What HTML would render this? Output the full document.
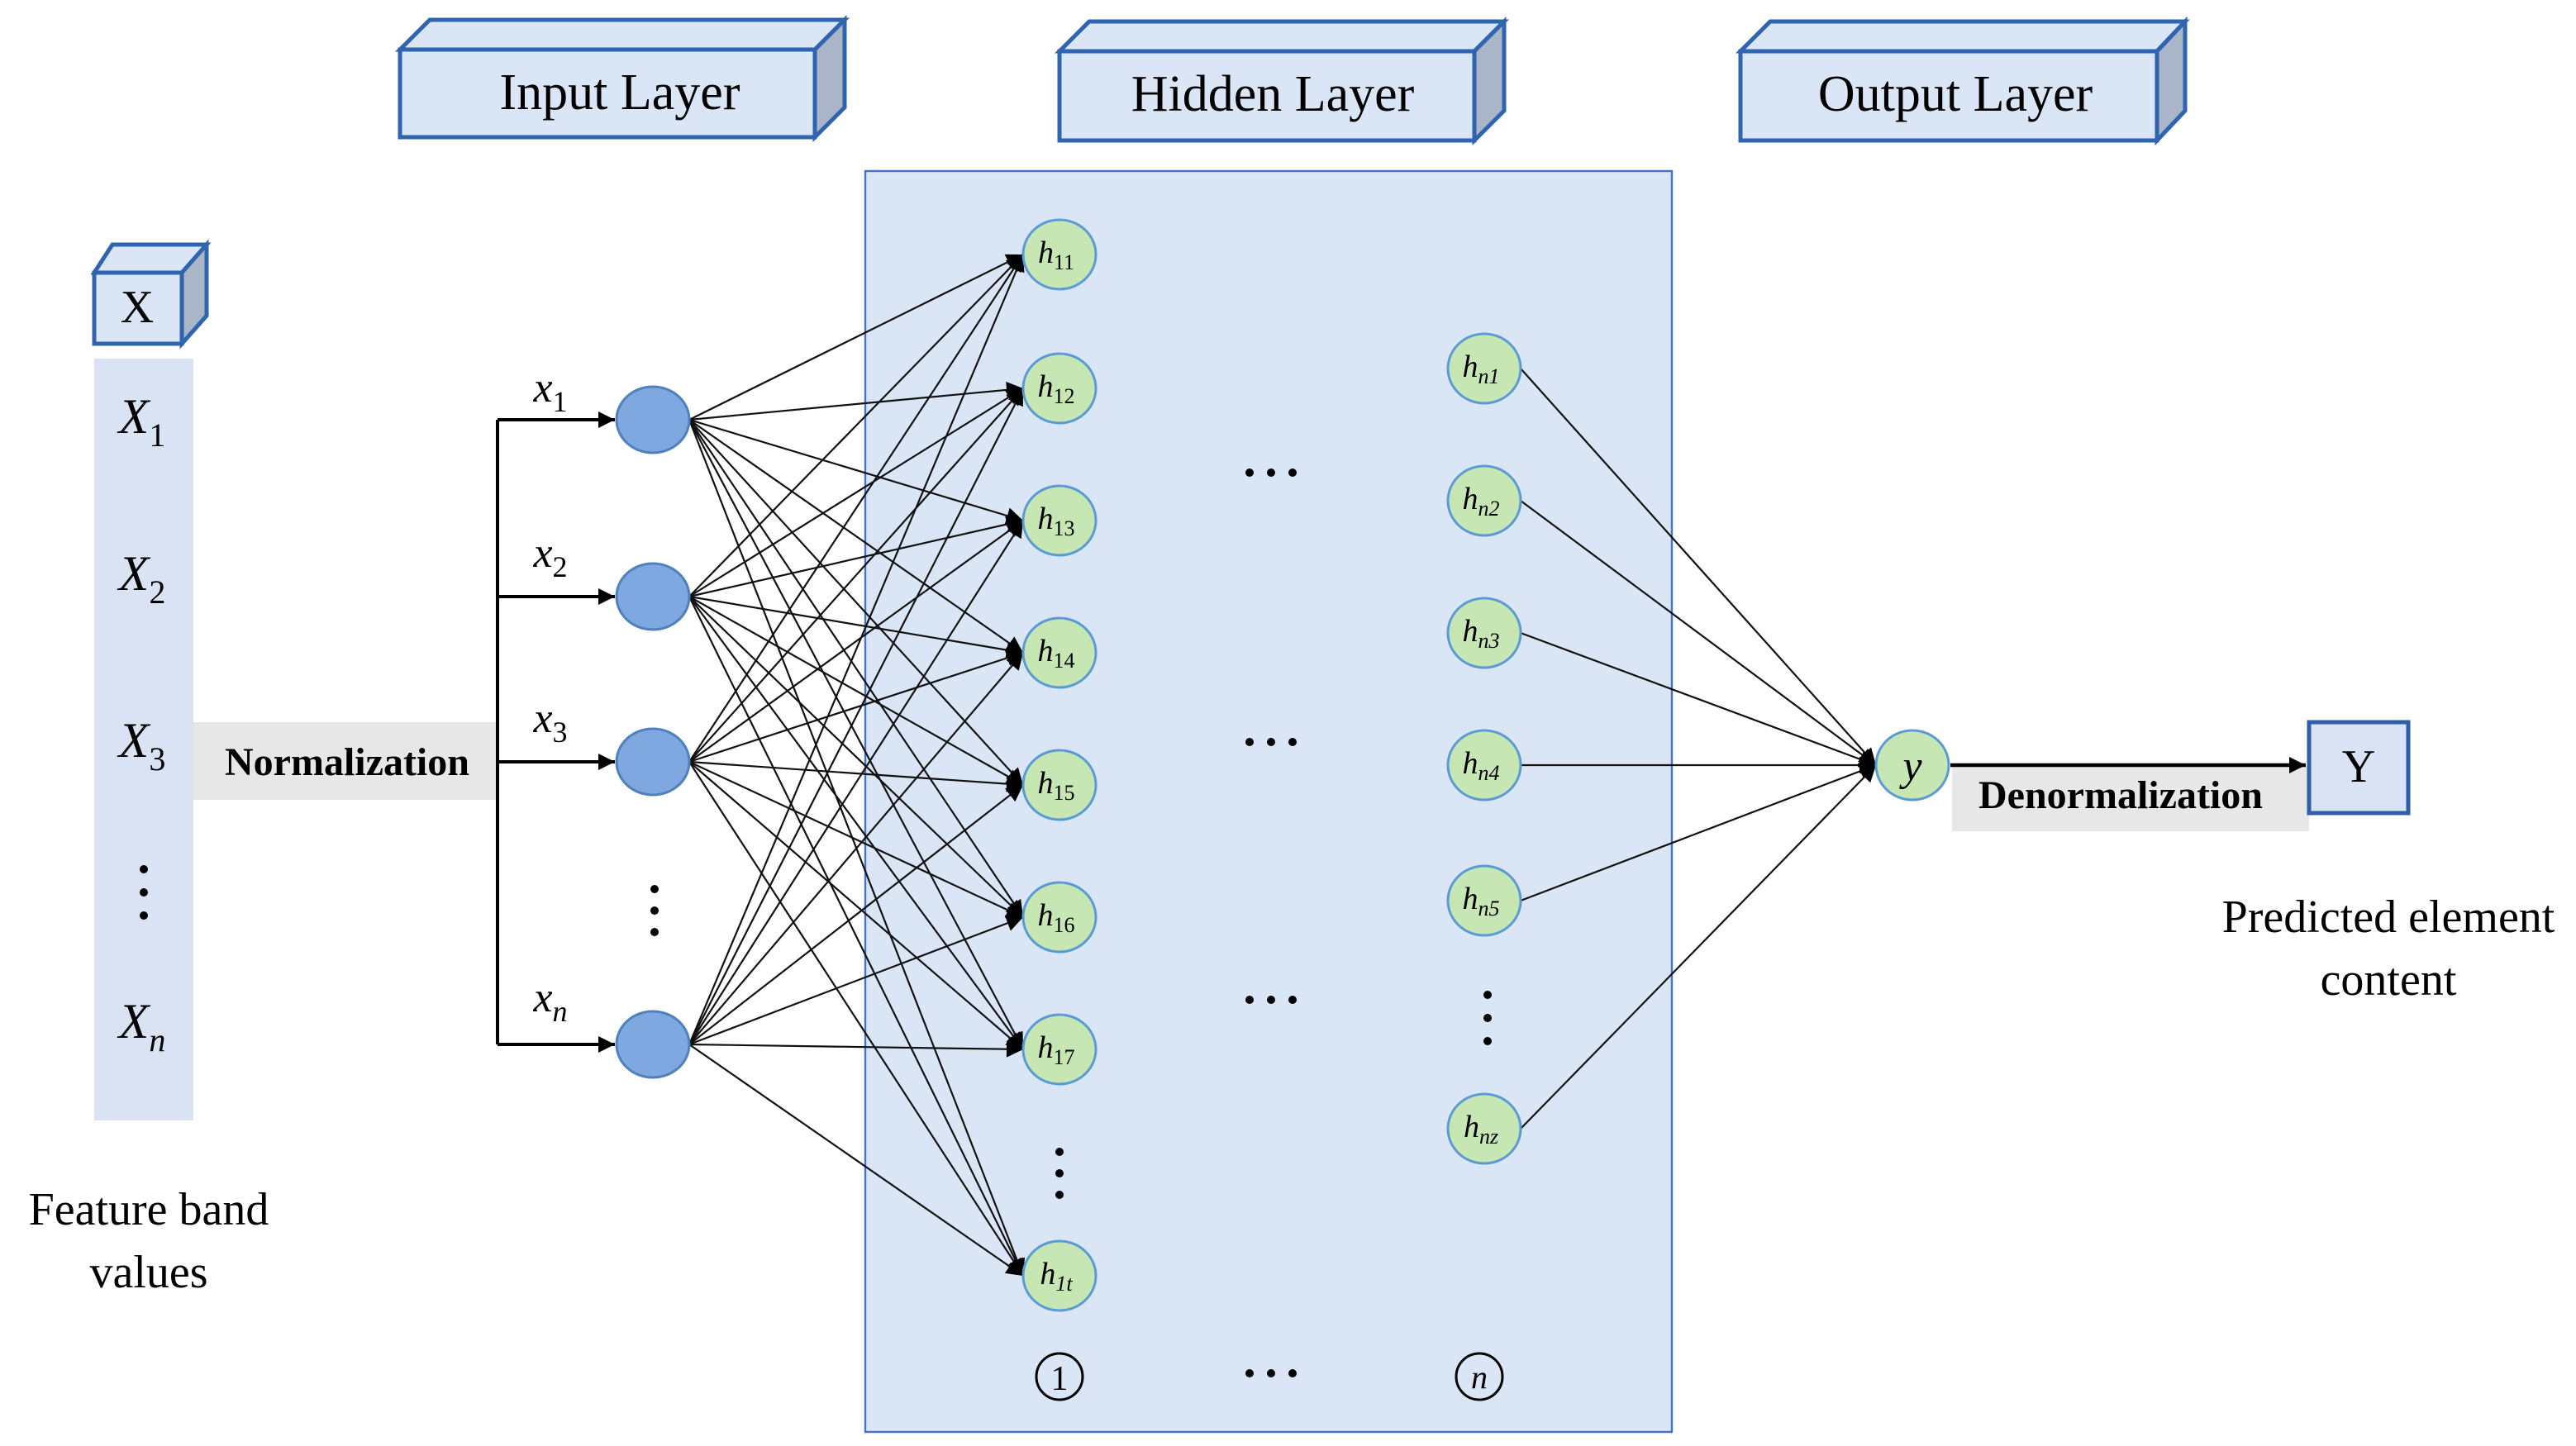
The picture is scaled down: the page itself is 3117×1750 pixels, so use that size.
<!DOCTYPE html>
<html><head><meta charset="utf-8"><style>html,body{margin:0;padding:0;background:#fff}svg{display:block}</style></head><body>
<svg xmlns="http://www.w3.org/2000/svg" width="3117" height="1750" viewBox="0 0 1558.5 875" font-family="Liberation Serif, serif">
<defs>
<marker id="a" viewBox="0 0 10 10" refX="10" refY="5" markerWidth="12" markerHeight="10" markerUnits="userSpaceOnUse" orient="auto"><path d="M0,0L10,5L0,10z" fill="#000"/></marker>
</defs>
<!-- header boxes -->
<g stroke="#2e64b0" stroke-width="2.5">
<path d="M242,30L260,12L511,12L493,30z" fill="#dae6f6"/><path d="M493,30L511,12L511,65L493,83z" fill="#aab6c8"/><rect x="242" y="30" width="251" height="53" fill="#dae6f6"/>
<path d="M641,31L659,13L910,13L892,31z" fill="#dae6f6"/><path d="M892,31L910,13L910,67L892,85z" fill="#aab6c8"/><rect x="641" y="31" width="251" height="54" fill="#dae6f6"/>
<path d="M1053,31L1071,13L1322,13L1305,31z" fill="#dae6f6"/><path d="M1305,31L1322,13L1322,67L1305,85z" fill="#aab6c8"/><rect x="1053" y="31" width="252" height="54" fill="#dae6f6"/>
<path d="M57,165L68,148L125,148L110,165z" fill="#dae6f6"/><path d="M110,165L125,148L125,191L110,208z" fill="#aab6c8"/><rect x="57" y="165" width="53" height="43" fill="#dae6f6"/>
</g>
<g font-size="31" text-anchor="middle">
<text x="375" y="66">Input Layer</text><text x="770" y="67">Hidden Layer</text><text x="1183" y="67">Output Layer</text>
<text x="83" y="195" font-size="28">X</text>
</g>
<rect x="523.5" y="103.5" width="488" height="763" fill="#dae6f6" stroke="#4472c4" stroke-width="1.2"/>
<rect x="57" y="217" width="60" height="461" fill="#dae3f3"/>
<g font-size="30" font-style="italic" text-anchor="middle">
<text x="86" y="262">X<tspan font-size="20" font-style="normal" dy="8">1</tspan></text>
<text x="86" y="357">X<tspan font-size="20" font-style="normal" dy="8">2</tspan></text>
<text x="86" y="458">X<tspan font-size="20" font-style="normal" dy="8">3</tspan></text>
<text x="86" y="628">X<tspan font-size="20" dy="8">n</tspan></text>
</g>
<g fill="#000"><circle cx="87" cy="526" r="2.5"/><circle cx="87" cy="540" r="2.5"/><circle cx="87" cy="554" r="2.5"/>
<circle cx="396" cy="538" r="2.5"/><circle cx="396" cy="551" r="2.5"/><circle cx="396" cy="564" r="2.5"/>
<circle cx="641" cy="697" r="2.5"/><circle cx="641" cy="710" r="2.5"/><circle cx="641" cy="723" r="2.5"/>
<circle cx="900" cy="602" r="2.5"/><circle cx="900" cy="616" r="2.5"/><circle cx="900" cy="630" r="2.5"/></g>
<rect x="117" y="437" width="183" height="47" fill="#e7e7e7"/>
<text x="210" y="469" font-size="24" font-weight="bold" text-anchor="middle">Normalization</text>
<g stroke="#000" stroke-width="2" fill="none">
<path d="M301,254V632"/>
<path d="M301,254H372" marker-end="url(#a)"/><path d="M301,361H372" marker-end="url(#a)"/><path d="M301,461H372" marker-end="url(#a)"/><path d="M301,632H372" marker-end="url(#a)"/>
</g>
<g font-size="26" font-style="italic" text-anchor="middle">
<text x="333" y="243">x<tspan font-size="18" font-style="normal" dy="6">1</tspan></text>
<text x="333" y="343">x<tspan font-size="18" font-style="normal" dy="6">2</tspan></text>
<text x="333" y="443">x<tspan font-size="18" font-style="normal" dy="6">3</tspan></text>
<text x="333" y="612">x<tspan font-size="18" dy="6">n</tspan></text>
</g>
<!-- connections -->
<g stroke="#111" stroke-width="1.1" marker-end="url(#a)">
<path d="M417,254L619,154"/><path d="M417,254L619,235"/><path d="M417,254L619,315"/><path d="M417,254L619,395"/><path d="M417,254L619,475"/><path d="M417,254L619,555"/><path d="M417,254L619,635"/><path d="M417,254L619,772"/>
<path d="M417,361L619,154"/><path d="M417,361L619,235"/><path d="M417,361L619,315"/><path d="M417,361L619,395"/><path d="M417,361L619,475"/><path d="M417,361L619,555"/><path d="M417,361L619,635"/><path d="M417,361L619,772"/>
<path d="M417,461L619,154"/><path d="M417,461L619,235"/><path d="M417,461L619,315"/><path d="M417,461L619,395"/><path d="M417,461L619,475"/><path d="M417,461L619,555"/><path d="M417,461L619,635"/><path d="M417,461L619,772"/>
<path d="M417,632L619,154"/><path d="M417,632L619,235"/><path d="M417,632L619,315"/><path d="M417,632L619,395"/><path d="M417,632L619,475"/><path d="M417,632L619,555"/><path d="M417,632L619,635"/><path d="M417,632L619,772"/>
<path d="M920,223L1135,463"/><path d="M920,303L1135,463"/><path d="M920,383L1135,463"/><path d="M920,463L1135,463"/><path d="M920,545L1135,463"/><path d="M920,683L1135,463"/>
</g>
<!-- input nodes -->
<g fill="#7fa7e0" stroke="#4f81bd" stroke-width="1.5">
<ellipse cx="395" cy="254" rx="22" ry="20"/><ellipse cx="395" cy="361" rx="22" ry="20"/><ellipse cx="395" cy="461" rx="22" ry="20"/><ellipse cx="395" cy="632" rx="22" ry="20"/>
</g>
<g fill="#c6e6b4" stroke="#5b9bd5" stroke-width="1.5">
<ellipse cx="641" cy="154" rx="22" ry="21"/><ellipse cx="641" cy="235" rx="22" ry="21"/><ellipse cx="641" cy="315" rx="22" ry="21"/><ellipse cx="641" cy="395" rx="22" ry="21"/><ellipse cx="641" cy="475" rx="22" ry="21"/><ellipse cx="641" cy="555" rx="22" ry="21"/><ellipse cx="641" cy="635" rx="22" ry="21"/><ellipse cx="641" cy="772" rx="22" ry="21"/>
<ellipse cx="898" cy="223" rx="22" ry="21"/><ellipse cx="898" cy="303" rx="22" ry="21"/><ellipse cx="898" cy="383" rx="22" ry="21"/><ellipse cx="898" cy="463" rx="22" ry="21"/><ellipse cx="898" cy="545" rx="22" ry="21"/><ellipse cx="898" cy="683" rx="22" ry="21"/>
<ellipse cx="1157" cy="463" rx="22" ry="21"/>
</g>
<g font-size="19" font-style="italic" text-anchor="middle">
<text x="639" y="159">h<tspan font-size="13" font-style="normal" dy="4">11</tspan></text>
<text x="639" y="240">h<tspan font-size="13" font-style="normal" dy="4">12</tspan></text>
<text x="639" y="320">h<tspan font-size="13" font-style="normal" dy="4">13</tspan></text>
<text x="639" y="400">h<tspan font-size="13" font-style="normal" dy="4">14</tspan></text>
<text x="639" y="480">h<tspan font-size="13" font-style="normal" dy="4">15</tspan></text>
<text x="639" y="560">h<tspan font-size="13" font-style="normal" dy="4">16</tspan></text>
<text x="639" y="640">h<tspan font-size="13" font-style="normal" dy="4">17</tspan></text>
<text x="639" y="777">h<tspan font-size="13" dy="4">1t</tspan></text>
<text x="896" y="228">h<tspan font-size="13" dy="4">n1</tspan></text>
<text x="896" y="308">h<tspan font-size="13" dy="4">n2</tspan></text>
<text x="896" y="388">h<tspan font-size="13" dy="4">n3</tspan></text>
<text x="896" y="468">h<tspan font-size="13" dy="4">n4</tspan></text>
<text x="896" y="550">h<tspan font-size="13" dy="4">n5</tspan></text>
<text x="896" y="688">h<tspan font-size="13" dy="4">nz</tspan></text>
<text x="1157" y="472" font-size="26">y</text>
</g>
<g fill="#000">
<circle cx="756" cy="286" r="2.5"/><circle cx="769" cy="286" r="2.5"/><circle cx="782" cy="286" r="2.5"/>
<circle cx="756" cy="449" r="2.5"/><circle cx="769" cy="449" r="2.5"/><circle cx="782" cy="449" r="2.5"/>
<circle cx="756" cy="605" r="2.5"/><circle cx="769" cy="605" r="2.5"/><circle cx="782" cy="605" r="2.5"/>
<circle cx="756" cy="831" r="2.5"/><circle cx="769" cy="831" r="2.5"/><circle cx="782" cy="831" r="2.5"/>
</g>
<g fill="none" stroke="#000" stroke-width="1.5"><circle cx="641" cy="833" r="14"/><circle cx="895" cy="833" r="14"/></g>
<text x="641" y="841" font-size="21" text-anchor="middle">1</text>
<text x="895" y="840" font-size="20" font-style="italic" text-anchor="middle">n</text>
<rect x="1181" y="463" width="216" height="40" fill="#e7e7e7"/>
<path d="M1180,463H1395" stroke="#000" stroke-width="2.2" marker-end="url(#a)"/>
<text x="1283" y="489" font-size="24" font-weight="bold" text-anchor="middle">Denormalization</text>
<rect x="1397" y="437" width="60" height="55" fill="#dae3f3" stroke="#2e5fa8" stroke-width="2.5"/>
<text x="1427" y="473" font-size="28" text-anchor="middle">Y</text>
<g font-size="28" text-anchor="middle">
<text x="1445" y="564">Predicted element</text><text x="1445" y="602">content</text>
<text x="90" y="741">Feature band</text><text x="90" y="779">values</text>
</g>
</svg>
</body></html>
